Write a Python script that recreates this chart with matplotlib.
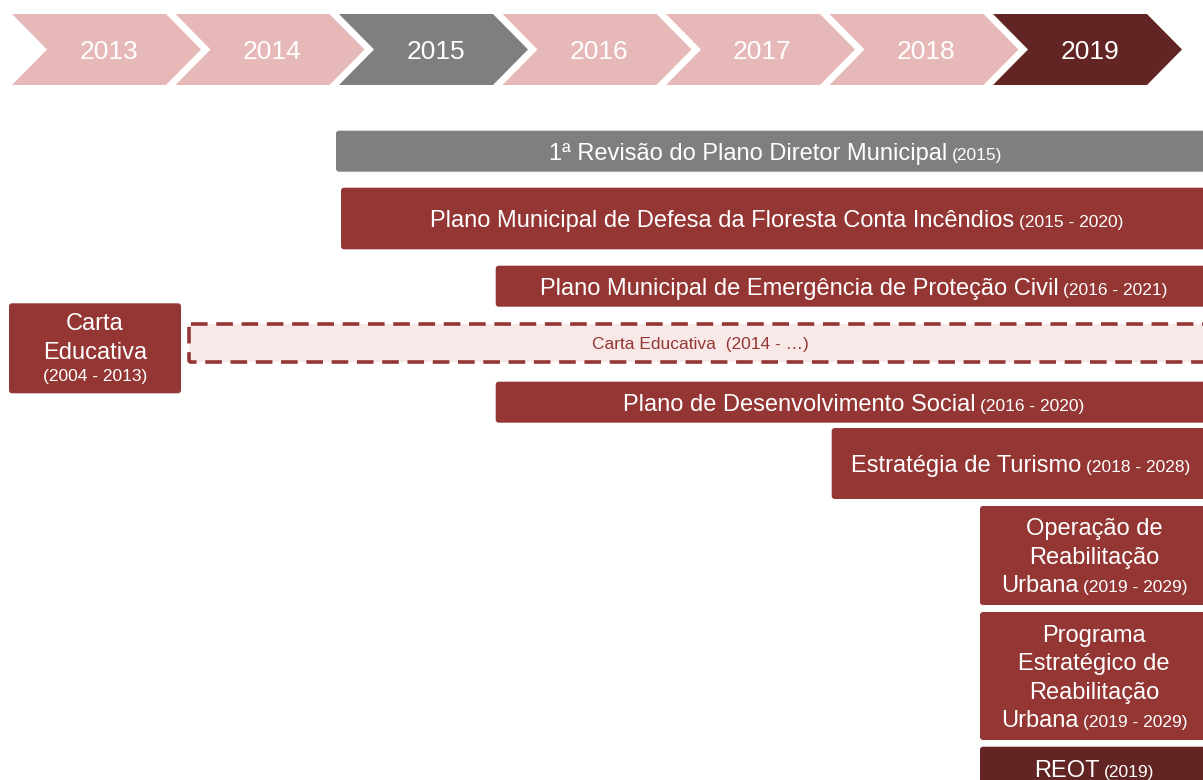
import matplotlib
matplotlib.use("Agg")
import matplotlib.pyplot as plt
from matplotlib.patches import Polygon, FancyBboxPatch

# ---------------- data ----------------
years = ["2013", "2014", "2015", "2016", "2017", "2018", "2019"]
year_kind = ["past", "past", "gray", "past", "past", "past", "dark"]

item_labels = [
    "1ª Revisão do Plano Diretor Municipal",
    "Plano Municipal de Defesa da Floresta Conta Incêndios",
    "Plano Municipal de Emergência de Proteção Civil",
    "Carta\nEducativa\n",
    "Carta Educativa ",
    "Plano de Desenvolvimento Social",
    "Estratégia de Turismo",
    "Operação de\nReabilitação\nUrbana",
    "Programa\nEstratégico de\nReabilitação\nUrbana",
    "REOT",
]
item_periods = [
    "(2015)", "(2015 - 2020)", "(2016 - 2021)", "(2004 - 2013)", "(2014 - …)",
    "(2016 - 2020)", "(2018 - 2028)", "(2019 - 2029)", "(2019 - 2029)", "(2019)",
]
item_kind = ["gray", "red", "red", "red", "dashed", "red", "red", "red", "red", "dark"]

# ---------------- layout (pixels) ----------------
W, H = 1203, 780
chev_left0, chev_step = 12.0, 163.5
chev_top, chev_bot = 14.0, 85.0
chev_body, chev_depth = 154.0, 35.0

# x0, x1, y0, y1 of each item box
item_boxes = [
    (336, 1216, 130.7, 171.7),
    (341, 1212, 187.7, 249.3),
    (495.7, 1212, 265.7, 306.7),
    (9, 181, 303.3, 393.3),
    (189, 1212, 324, 362),
    (495.7, 1212, 381.7, 422.7),
    (831.7, 1209, 428, 499),
    (980, 1208, 506, 605),
    (980, 1208, 612, 740),
    (980, 1208, 746.7, 790),
]

colors = {"past": "#E6B9B8", "gray": "#7F7F7F", "dark": "#632523",
          "red": "#943634", "dashed_fill": "#F8E9E8", "dashed_edge": "#943634"}

FONT = "Liberation Sans"
BIG, SMALL, YEAR = 17.0, 12.5, 19.0

fig = plt.figure(figsize=(W / 100, H / 100), dpi=100)
ax = fig.add_axes([0, 0, 1, 1])
ax.set_xlim(0, W)
ax.set_ylim(H, 0)
ax.axis("off")
renderer = fig.canvas.get_renderer()


def px(pt):
    return pt * 100 / 72.0


def draw_line(xc, yc, runs, gap=4.5):
    texts, widths = [], []
    for s, size, color in runs:
        t = ax.text(0, 0, s, fontsize=size, color=color, ha="left",
                    va="baseline", family=FONT, zorder=5)
        bb = t.get_window_extent(renderer)
        texts.append(t)
        widths.append(bb.width)
    total = sum(widths) + gap * (len(runs) - 1)
    maxsize = max(r[1] for r in runs)
    base = yc + 0.716 * px(maxsize) / 2
    x = xc - total / 2
    for t, w in zip(texts, widths):
        t.set_position((x, base))
        x += w + gap


# ---------------- chevrons ----------------
mid = (chev_top + chev_bot) / 2
for i, (yr, kind) in enumerate(zip(years, year_kind)):
    x0 = chev_left0 + i * chev_step
    pts = [(x0, chev_top), (x0 + chev_body, chev_top),
           (x0 + chev_body + chev_depth, mid), (x0 + chev_body, chev_bot),
           (x0, chev_bot), (x0 + chev_depth, mid)]
    ax.add_patch(Polygon(pts, closed=True, facecolor=colors[kind],
                         edgecolor="none", zorder=2))
    ax.text(x0 + 96.5, mid, yr, fontsize=YEAR, color="white", ha="center",
            va="center_baseline", family=FONT, zorder=5)

# ---------------- items ----------------
for label, period, kind, (x0, x1, y0, y1) in zip(item_labels, item_periods,
                                                 item_kind, item_boxes):
    xc, yc = (x0 + x1) / 2, (y0 + y1) / 2
    if kind == "dashed":
        ax.add_patch(FancyBboxPatch((x0, y0), x1 - x0, y1 - y0,
                                    boxstyle="round,pad=0,rounding_size=2",
                                    facecolor=colors["dashed_fill"],
                                    edgecolor=colors["dashed_edge"],
                                    linewidth=2.6, linestyle=(0, (4.6, 2.4)),
                                    zorder=3))
        draw_line(xc, yc, [(label + " " + period, SMALL, colors["red"])])
        continue
    ax.add_patch(FancyBboxPatch((x0, y0), x1 - x0, y1 - y0,
                                boxstyle="round,pad=0,rounding_size=3",
                                facecolor=colors[kind], edgecolor="none",
                                zorder=3))
    lines = label.split("\n")
    line_runs = []
    for j, ln in enumerate(lines):
        runs = []
        if ln:
            runs.append((ln, BIG, "white"))
        if j == len(lines) - 1:
            runs.append((period, SMALL, "white"))
        line_runs.append(runs)
    heights = [max(px(r[1]) for r in rr) for rr in line_runs]
    offs = [0.0]
    for j in range(1, len(heights)):
        offs.append(offs[-1] + 0.604 * (heights[j - 1] + heights[j]))
    start = yc - offs[-1] / 2
    for rr, o in zip(line_runs, offs):
        draw_line(xc, start + o, rr)

fig.savefig("out.png", dpi=100)
